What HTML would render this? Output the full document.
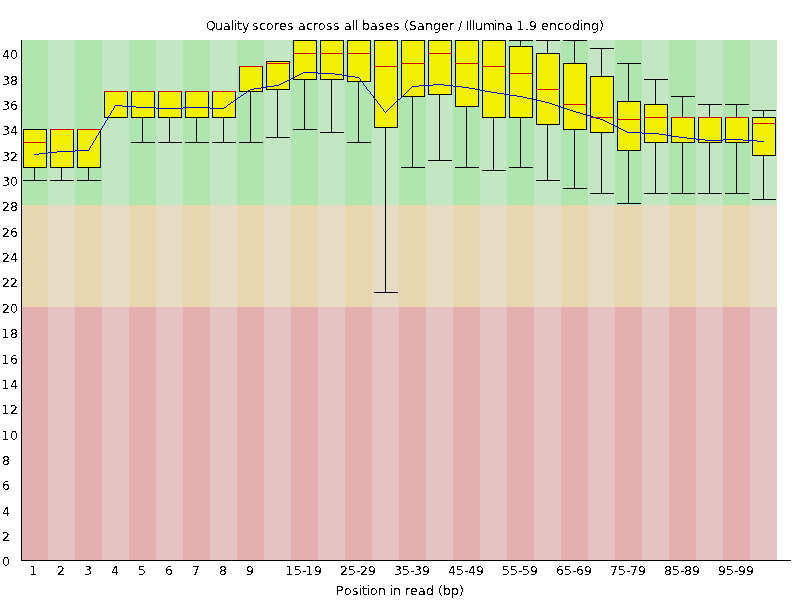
<!DOCTYPE html>
<html><head><meta charset="utf-8"><title>Quality scores across all bases</title>
<style>
html,body{margin:0;padding:0;background:#fff;}
body{width:800px;height:600px;overflow:hidden;}
svg{display:block;}
svg text{font-family:"DejaVu Sans", "Liberation Sans", sans-serif;font-size:12.5px;fill:#000;}
</style></head><body>
<svg width="800" height="600" viewBox="0 0 800 600">
<rect x="0" y="0" width="800" height="600" fill="#fff"/>
<g shape-rendering="crispEdges">
<rect x="21" y="40" width="27" height="165" fill="#afe6af"/>
<rect x="21" y="205" width="27" height="102" fill="#e6d7af"/>
<rect x="21" y="307" width="27" height="253" fill="#e6afaf"/>
<rect x="48" y="40" width="27" height="165" fill="#c3e6c3"/>
<rect x="48" y="205" width="27" height="102" fill="#e6dcc3"/>
<rect x="48" y="307" width="27" height="253" fill="#e6c3c3"/>
<rect x="75" y="40" width="27" height="165" fill="#afe6af"/>
<rect x="75" y="205" width="27" height="102" fill="#e6d7af"/>
<rect x="75" y="307" width="27" height="253" fill="#e6afaf"/>
<rect x="102" y="40" width="27" height="165" fill="#c3e6c3"/>
<rect x="102" y="205" width="27" height="102" fill="#e6dcc3"/>
<rect x="102" y="307" width="27" height="253" fill="#e6c3c3"/>
<rect x="129" y="40" width="27" height="165" fill="#afe6af"/>
<rect x="129" y="205" width="27" height="102" fill="#e6d7af"/>
<rect x="129" y="307" width="27" height="253" fill="#e6afaf"/>
<rect x="156" y="40" width="27" height="165" fill="#c3e6c3"/>
<rect x="156" y="205" width="27" height="102" fill="#e6dcc3"/>
<rect x="156" y="307" width="27" height="253" fill="#e6c3c3"/>
<rect x="183" y="40" width="27" height="165" fill="#afe6af"/>
<rect x="183" y="205" width="27" height="102" fill="#e6d7af"/>
<rect x="183" y="307" width="27" height="253" fill="#e6afaf"/>
<rect x="210" y="40" width="27" height="165" fill="#c3e6c3"/>
<rect x="210" y="205" width="27" height="102" fill="#e6dcc3"/>
<rect x="210" y="307" width="27" height="253" fill="#e6c3c3"/>
<rect x="237" y="40" width="27" height="165" fill="#afe6af"/>
<rect x="237" y="205" width="27" height="102" fill="#e6d7af"/>
<rect x="237" y="307" width="27" height="253" fill="#e6afaf"/>
<rect x="264" y="40" width="27" height="165" fill="#c3e6c3"/>
<rect x="264" y="205" width="27" height="102" fill="#e6dcc3"/>
<rect x="264" y="307" width="27" height="253" fill="#e6c3c3"/>
<rect x="291" y="40" width="27" height="165" fill="#afe6af"/>
<rect x="291" y="205" width="27" height="102" fill="#e6d7af"/>
<rect x="291" y="307" width="27" height="253" fill="#e6afaf"/>
<rect x="318" y="40" width="27" height="165" fill="#c3e6c3"/>
<rect x="318" y="205" width="27" height="102" fill="#e6dcc3"/>
<rect x="318" y="307" width="27" height="253" fill="#e6c3c3"/>
<rect x="345" y="40" width="27" height="165" fill="#afe6af"/>
<rect x="345" y="205" width="27" height="102" fill="#e6d7af"/>
<rect x="345" y="307" width="27" height="253" fill="#e6afaf"/>
<rect x="372" y="40" width="27" height="165" fill="#c3e6c3"/>
<rect x="372" y="205" width="27" height="102" fill="#e6dcc3"/>
<rect x="372" y="307" width="27" height="253" fill="#e6c3c3"/>
<rect x="399" y="40" width="27" height="165" fill="#afe6af"/>
<rect x="399" y="205" width="27" height="102" fill="#e6d7af"/>
<rect x="399" y="307" width="27" height="253" fill="#e6afaf"/>
<rect x="426" y="40" width="27" height="165" fill="#c3e6c3"/>
<rect x="426" y="205" width="27" height="102" fill="#e6dcc3"/>
<rect x="426" y="307" width="27" height="253" fill="#e6c3c3"/>
<rect x="453" y="40" width="27" height="165" fill="#afe6af"/>
<rect x="453" y="205" width="27" height="102" fill="#e6d7af"/>
<rect x="453" y="307" width="27" height="253" fill="#e6afaf"/>
<rect x="480" y="40" width="27" height="165" fill="#c3e6c3"/>
<rect x="480" y="205" width="27" height="102" fill="#e6dcc3"/>
<rect x="480" y="307" width="27" height="253" fill="#e6c3c3"/>
<rect x="507" y="40" width="27" height="165" fill="#afe6af"/>
<rect x="507" y="205" width="27" height="102" fill="#e6d7af"/>
<rect x="507" y="307" width="27" height="253" fill="#e6afaf"/>
<rect x="534" y="40" width="27" height="165" fill="#c3e6c3"/>
<rect x="534" y="205" width="27" height="102" fill="#e6dcc3"/>
<rect x="534" y="307" width="27" height="253" fill="#e6c3c3"/>
<rect x="561" y="40" width="27" height="165" fill="#afe6af"/>
<rect x="561" y="205" width="27" height="102" fill="#e6d7af"/>
<rect x="561" y="307" width="27" height="253" fill="#e6afaf"/>
<rect x="588" y="40" width="27" height="165" fill="#c3e6c3"/>
<rect x="588" y="205" width="27" height="102" fill="#e6dcc3"/>
<rect x="588" y="307" width="27" height="253" fill="#e6c3c3"/>
<rect x="615" y="40" width="27" height="165" fill="#afe6af"/>
<rect x="615" y="205" width="27" height="102" fill="#e6d7af"/>
<rect x="615" y="307" width="27" height="253" fill="#e6afaf"/>
<rect x="642" y="40" width="27" height="165" fill="#c3e6c3"/>
<rect x="642" y="205" width="27" height="102" fill="#e6dcc3"/>
<rect x="642" y="307" width="27" height="253" fill="#e6c3c3"/>
<rect x="669" y="40" width="27" height="165" fill="#afe6af"/>
<rect x="669" y="205" width="27" height="102" fill="#e6d7af"/>
<rect x="669" y="307" width="27" height="253" fill="#e6afaf"/>
<rect x="696" y="40" width="27" height="165" fill="#c3e6c3"/>
<rect x="696" y="205" width="27" height="102" fill="#e6dcc3"/>
<rect x="696" y="307" width="27" height="253" fill="#e6c3c3"/>
<rect x="723" y="40" width="27" height="165" fill="#afe6af"/>
<rect x="723" y="205" width="27" height="102" fill="#e6d7af"/>
<rect x="723" y="307" width="27" height="253" fill="#e6afaf"/>
<rect x="750" y="40" width="27" height="165" fill="#c3e6c3"/>
<rect x="750" y="205" width="27" height="102" fill="#e6dcc3"/>
<rect x="750" y="307" width="27" height="253" fill="#e6c3c3"/>
<rect x="21" y="560" width="770" height="1" fill="#000"/>
<rect x="21" y="40" width="1" height="521" fill="#000"/>
<rect x="23" y="129" width="23" height="38" fill="#f0f000"/>
<rect x="23" y="129" width="24" height="1" fill="#000"/>
<rect x="23" y="167" width="24" height="1" fill="#000"/>
<rect x="23" y="129" width="1" height="39" fill="#000"/>
<rect x="46" y="129" width="1" height="39" fill="#000"/>
<rect x="34" y="167" width="1" height="14" fill="#000"/>
<rect x="23" y="129" width="24" height="1" fill="#000"/>
<rect x="23" y="180" width="24" height="1" fill="#000"/>
<rect x="23" y="142" width="24" height="1" fill="#c80000"/>
<rect x="50" y="129" width="23" height="38" fill="#f0f000"/>
<rect x="50" y="129" width="24" height="1" fill="#000"/>
<rect x="50" y="167" width="24" height="1" fill="#000"/>
<rect x="50" y="129" width="1" height="39" fill="#000"/>
<rect x="73" y="129" width="1" height="39" fill="#000"/>
<rect x="61" y="167" width="1" height="14" fill="#000"/>
<rect x="50" y="129" width="24" height="1" fill="#000"/>
<rect x="50" y="180" width="24" height="1" fill="#000"/>
<rect x="50" y="129" width="24" height="1" fill="#c80000"/>
<rect x="77" y="129" width="23" height="38" fill="#f0f000"/>
<rect x="77" y="129" width="24" height="1" fill="#000"/>
<rect x="77" y="167" width="24" height="1" fill="#000"/>
<rect x="77" y="129" width="1" height="39" fill="#000"/>
<rect x="100" y="129" width="1" height="39" fill="#000"/>
<rect x="88" y="167" width="1" height="14" fill="#000"/>
<rect x="77" y="129" width="24" height="1" fill="#000"/>
<rect x="77" y="180" width="24" height="1" fill="#000"/>
<rect x="77" y="129" width="24" height="1" fill="#c80000"/>
<rect x="104" y="91" width="23" height="26" fill="#f0f000"/>
<rect x="104" y="91" width="24" height="1" fill="#000"/>
<rect x="104" y="117" width="24" height="1" fill="#000"/>
<rect x="104" y="91" width="1" height="27" fill="#000"/>
<rect x="127" y="91" width="1" height="27" fill="#000"/>
<rect x="104" y="91" width="24" height="1" fill="#000"/>
<rect x="104" y="117" width="24" height="1" fill="#000"/>
<rect x="104" y="91" width="24" height="1" fill="#c80000"/>
<rect x="131" y="91" width="23" height="26" fill="#f0f000"/>
<rect x="131" y="91" width="24" height="1" fill="#000"/>
<rect x="131" y="117" width="24" height="1" fill="#000"/>
<rect x="131" y="91" width="1" height="27" fill="#000"/>
<rect x="154" y="91" width="1" height="27" fill="#000"/>
<rect x="142" y="117" width="1" height="26" fill="#000"/>
<rect x="131" y="91" width="24" height="1" fill="#000"/>
<rect x="131" y="142" width="24" height="1" fill="#000"/>
<rect x="131" y="91" width="24" height="1" fill="#c80000"/>
<rect x="158" y="91" width="23" height="26" fill="#f0f000"/>
<rect x="158" y="91" width="24" height="1" fill="#000"/>
<rect x="158" y="117" width="24" height="1" fill="#000"/>
<rect x="158" y="91" width="1" height="27" fill="#000"/>
<rect x="181" y="91" width="1" height="27" fill="#000"/>
<rect x="169" y="117" width="1" height="26" fill="#000"/>
<rect x="158" y="91" width="24" height="1" fill="#000"/>
<rect x="158" y="142" width="24" height="1" fill="#000"/>
<rect x="158" y="91" width="24" height="1" fill="#c80000"/>
<rect x="185" y="91" width="23" height="26" fill="#f0f000"/>
<rect x="185" y="91" width="24" height="1" fill="#000"/>
<rect x="185" y="117" width="24" height="1" fill="#000"/>
<rect x="185" y="91" width="1" height="27" fill="#000"/>
<rect x="208" y="91" width="1" height="27" fill="#000"/>
<rect x="196" y="117" width="1" height="26" fill="#000"/>
<rect x="185" y="91" width="24" height="1" fill="#000"/>
<rect x="185" y="142" width="24" height="1" fill="#000"/>
<rect x="185" y="91" width="24" height="1" fill="#c80000"/>
<rect x="212" y="91" width="23" height="26" fill="#f0f000"/>
<rect x="212" y="91" width="24" height="1" fill="#000"/>
<rect x="212" y="117" width="24" height="1" fill="#000"/>
<rect x="212" y="91" width="1" height="27" fill="#000"/>
<rect x="235" y="91" width="1" height="27" fill="#000"/>
<rect x="223" y="117" width="1" height="26" fill="#000"/>
<rect x="212" y="91" width="24" height="1" fill="#000"/>
<rect x="212" y="142" width="24" height="1" fill="#000"/>
<rect x="212" y="91" width="24" height="1" fill="#c80000"/>
<rect x="239" y="66" width="23" height="25" fill="#f0f000"/>
<rect x="239" y="66" width="24" height="1" fill="#000"/>
<rect x="239" y="91" width="24" height="1" fill="#000"/>
<rect x="239" y="66" width="1" height="26" fill="#000"/>
<rect x="262" y="66" width="1" height="26" fill="#000"/>
<rect x="250" y="91" width="1" height="52" fill="#000"/>
<rect x="239" y="66" width="24" height="1" fill="#000"/>
<rect x="239" y="142" width="24" height="1" fill="#000"/>
<rect x="239" y="66" width="24" height="1" fill="#c80000"/>
<rect x="266" y="61" width="23" height="28" fill="#f0f000"/>
<rect x="266" y="61" width="24" height="1" fill="#000"/>
<rect x="266" y="89" width="24" height="1" fill="#000"/>
<rect x="266" y="61" width="1" height="29" fill="#000"/>
<rect x="289" y="61" width="1" height="29" fill="#000"/>
<rect x="277" y="89" width="1" height="49" fill="#000"/>
<rect x="266" y="61" width="24" height="1" fill="#000"/>
<rect x="266" y="137" width="24" height="1" fill="#000"/>
<rect x="266" y="63" width="24" height="1" fill="#c80000"/>
<rect x="293" y="40" width="23" height="39" fill="#f0f000"/>
<rect x="293" y="40" width="24" height="1" fill="#000"/>
<rect x="293" y="79" width="24" height="1" fill="#000"/>
<rect x="293" y="40" width="1" height="40" fill="#000"/>
<rect x="316" y="40" width="1" height="40" fill="#000"/>
<rect x="304" y="79" width="1" height="51" fill="#000"/>
<rect x="293" y="40" width="24" height="1" fill="#000"/>
<rect x="293" y="129" width="24" height="1" fill="#000"/>
<rect x="293" y="53" width="24" height="1" fill="#c80000"/>
<rect x="320" y="40" width="23" height="39" fill="#f0f000"/>
<rect x="320" y="40" width="24" height="1" fill="#000"/>
<rect x="320" y="79" width="24" height="1" fill="#000"/>
<rect x="320" y="40" width="1" height="40" fill="#000"/>
<rect x="343" y="40" width="1" height="40" fill="#000"/>
<rect x="331" y="79" width="1" height="54" fill="#000"/>
<rect x="320" y="40" width="24" height="1" fill="#000"/>
<rect x="320" y="132" width="24" height="1" fill="#000"/>
<rect x="320" y="53" width="24" height="1" fill="#c80000"/>
<rect x="347" y="40" width="23" height="41" fill="#f0f000"/>
<rect x="347" y="40" width="24" height="1" fill="#000"/>
<rect x="347" y="81" width="24" height="1" fill="#000"/>
<rect x="347" y="40" width="1" height="42" fill="#000"/>
<rect x="370" y="40" width="1" height="42" fill="#000"/>
<rect x="358" y="81" width="1" height="62" fill="#000"/>
<rect x="347" y="40" width="24" height="1" fill="#000"/>
<rect x="347" y="142" width="24" height="1" fill="#000"/>
<rect x="347" y="53" width="24" height="1" fill="#c80000"/>
<rect x="374" y="40" width="23" height="87" fill="#f0f000"/>
<rect x="374" y="40" width="24" height="1" fill="#000"/>
<rect x="374" y="127" width="24" height="1" fill="#000"/>
<rect x="374" y="40" width="1" height="88" fill="#000"/>
<rect x="397" y="40" width="1" height="88" fill="#000"/>
<rect x="385" y="127" width="1" height="166" fill="#000"/>
<rect x="374" y="40" width="24" height="1" fill="#000"/>
<rect x="374" y="292" width="24" height="1" fill="#000"/>
<rect x="374" y="66" width="24" height="1" fill="#c80000"/>
<rect x="401" y="40" width="23" height="56" fill="#f0f000"/>
<rect x="401" y="40" width="24" height="1" fill="#000"/>
<rect x="401" y="96" width="24" height="1" fill="#000"/>
<rect x="401" y="40" width="1" height="57" fill="#000"/>
<rect x="424" y="40" width="1" height="57" fill="#000"/>
<rect x="412" y="96" width="1" height="72" fill="#000"/>
<rect x="401" y="40" width="24" height="1" fill="#000"/>
<rect x="401" y="167" width="24" height="1" fill="#000"/>
<rect x="401" y="63" width="24" height="1" fill="#c80000"/>
<rect x="428" y="40" width="23" height="54" fill="#f0f000"/>
<rect x="428" y="40" width="24" height="1" fill="#000"/>
<rect x="428" y="94" width="24" height="1" fill="#000"/>
<rect x="428" y="40" width="1" height="55" fill="#000"/>
<rect x="451" y="40" width="1" height="55" fill="#000"/>
<rect x="439" y="94" width="1" height="67" fill="#000"/>
<rect x="428" y="40" width="24" height="1" fill="#000"/>
<rect x="428" y="160" width="24" height="1" fill="#000"/>
<rect x="428" y="53" width="24" height="1" fill="#c80000"/>
<rect x="455" y="40" width="23" height="66" fill="#f0f000"/>
<rect x="455" y="40" width="24" height="1" fill="#000"/>
<rect x="455" y="106" width="24" height="1" fill="#000"/>
<rect x="455" y="40" width="1" height="67" fill="#000"/>
<rect x="478" y="40" width="1" height="67" fill="#000"/>
<rect x="466" y="106" width="1" height="62" fill="#000"/>
<rect x="455" y="40" width="24" height="1" fill="#000"/>
<rect x="455" y="167" width="24" height="1" fill="#000"/>
<rect x="455" y="63" width="24" height="1" fill="#c80000"/>
<rect x="482" y="40" width="23" height="77" fill="#f0f000"/>
<rect x="482" y="40" width="24" height="1" fill="#000"/>
<rect x="482" y="117" width="24" height="1" fill="#000"/>
<rect x="482" y="40" width="1" height="78" fill="#000"/>
<rect x="505" y="40" width="1" height="78" fill="#000"/>
<rect x="493" y="117" width="1" height="54" fill="#000"/>
<rect x="482" y="40" width="24" height="1" fill="#000"/>
<rect x="482" y="170" width="24" height="1" fill="#000"/>
<rect x="482" y="66" width="24" height="1" fill="#c80000"/>
<rect x="509" y="46" width="23" height="71" fill="#f0f000"/>
<rect x="509" y="46" width="24" height="1" fill="#000"/>
<rect x="509" y="117" width="24" height="1" fill="#000"/>
<rect x="509" y="46" width="1" height="72" fill="#000"/>
<rect x="532" y="46" width="1" height="72" fill="#000"/>
<rect x="520" y="40" width="1" height="7" fill="#000"/>
<rect x="520" y="117" width="1" height="51" fill="#000"/>
<rect x="509" y="40" width="24" height="1" fill="#000"/>
<rect x="509" y="167" width="24" height="1" fill="#000"/>
<rect x="509" y="73" width="24" height="1" fill="#c80000"/>
<rect x="536" y="53" width="23" height="71" fill="#f0f000"/>
<rect x="536" y="53" width="24" height="1" fill="#000"/>
<rect x="536" y="124" width="24" height="1" fill="#000"/>
<rect x="536" y="53" width="1" height="72" fill="#000"/>
<rect x="559" y="53" width="1" height="72" fill="#000"/>
<rect x="547" y="40" width="1" height="14" fill="#000"/>
<rect x="547" y="124" width="1" height="57" fill="#000"/>
<rect x="536" y="40" width="24" height="1" fill="#000"/>
<rect x="536" y="180" width="24" height="1" fill="#000"/>
<rect x="536" y="89" width="24" height="1" fill="#c80000"/>
<rect x="563" y="63" width="23" height="66" fill="#f0f000"/>
<rect x="563" y="63" width="24" height="1" fill="#000"/>
<rect x="563" y="129" width="24" height="1" fill="#000"/>
<rect x="563" y="63" width="1" height="67" fill="#000"/>
<rect x="586" y="63" width="1" height="67" fill="#000"/>
<rect x="574" y="40" width="1" height="24" fill="#000"/>
<rect x="574" y="129" width="1" height="60" fill="#000"/>
<rect x="563" y="40" width="24" height="1" fill="#000"/>
<rect x="563" y="188" width="24" height="1" fill="#000"/>
<rect x="563" y="104" width="24" height="1" fill="#c80000"/>
<rect x="590" y="76" width="23" height="56" fill="#f0f000"/>
<rect x="590" y="76" width="24" height="1" fill="#000"/>
<rect x="590" y="132" width="24" height="1" fill="#000"/>
<rect x="590" y="76" width="1" height="57" fill="#000"/>
<rect x="613" y="76" width="1" height="57" fill="#000"/>
<rect x="601" y="48" width="1" height="29" fill="#000"/>
<rect x="601" y="132" width="1" height="62" fill="#000"/>
<rect x="590" y="48" width="24" height="1" fill="#000"/>
<rect x="590" y="193" width="24" height="1" fill="#000"/>
<rect x="590" y="117" width="24" height="1" fill="#c80000"/>
<rect x="617" y="101" width="23" height="49" fill="#f0f000"/>
<rect x="617" y="101" width="24" height="1" fill="#000"/>
<rect x="617" y="150" width="24" height="1" fill="#000"/>
<rect x="617" y="101" width="1" height="50" fill="#000"/>
<rect x="640" y="101" width="1" height="50" fill="#000"/>
<rect x="628" y="63" width="1" height="39" fill="#000"/>
<rect x="628" y="150" width="1" height="54" fill="#000"/>
<rect x="617" y="63" width="24" height="1" fill="#000"/>
<rect x="617" y="203" width="24" height="1" fill="#000"/>
<rect x="617" y="119" width="24" height="1" fill="#c80000"/>
<rect x="644" y="104" width="23" height="38" fill="#f0f000"/>
<rect x="644" y="104" width="24" height="1" fill="#000"/>
<rect x="644" y="142" width="24" height="1" fill="#000"/>
<rect x="644" y="104" width="1" height="39" fill="#000"/>
<rect x="667" y="104" width="1" height="39" fill="#000"/>
<rect x="655" y="79" width="1" height="26" fill="#000"/>
<rect x="655" y="142" width="1" height="52" fill="#000"/>
<rect x="644" y="79" width="24" height="1" fill="#000"/>
<rect x="644" y="193" width="24" height="1" fill="#000"/>
<rect x="644" y="117" width="24" height="1" fill="#c80000"/>
<rect x="671" y="117" width="23" height="25" fill="#f0f000"/>
<rect x="671" y="117" width="24" height="1" fill="#000"/>
<rect x="671" y="142" width="24" height="1" fill="#000"/>
<rect x="671" y="117" width="1" height="26" fill="#000"/>
<rect x="694" y="117" width="1" height="26" fill="#000"/>
<rect x="682" y="96" width="1" height="22" fill="#000"/>
<rect x="682" y="142" width="1" height="52" fill="#000"/>
<rect x="671" y="96" width="24" height="1" fill="#000"/>
<rect x="671" y="193" width="24" height="1" fill="#000"/>
<rect x="671" y="117" width="24" height="1" fill="#c80000"/>
<rect x="698" y="117" width="23" height="25" fill="#f0f000"/>
<rect x="698" y="117" width="24" height="1" fill="#000"/>
<rect x="698" y="142" width="24" height="1" fill="#000"/>
<rect x="698" y="117" width="1" height="26" fill="#000"/>
<rect x="721" y="117" width="1" height="26" fill="#000"/>
<rect x="709" y="104" width="1" height="14" fill="#000"/>
<rect x="709" y="142" width="1" height="52" fill="#000"/>
<rect x="698" y="104" width="24" height="1" fill="#000"/>
<rect x="698" y="193" width="24" height="1" fill="#000"/>
<rect x="698" y="117" width="24" height="1" fill="#c80000"/>
<rect x="725" y="117" width="23" height="25" fill="#f0f000"/>
<rect x="725" y="117" width="24" height="1" fill="#000"/>
<rect x="725" y="142" width="24" height="1" fill="#000"/>
<rect x="725" y="117" width="1" height="26" fill="#000"/>
<rect x="748" y="117" width="1" height="26" fill="#000"/>
<rect x="736" y="104" width="1" height="14" fill="#000"/>
<rect x="736" y="142" width="1" height="52" fill="#000"/>
<rect x="725" y="104" width="24" height="1" fill="#000"/>
<rect x="725" y="193" width="24" height="1" fill="#000"/>
<rect x="725" y="117" width="24" height="1" fill="#c80000"/>
<rect x="752" y="117" width="23" height="38" fill="#f0f000"/>
<rect x="752" y="117" width="24" height="1" fill="#000"/>
<rect x="752" y="155" width="24" height="1" fill="#000"/>
<rect x="752" y="117" width="1" height="39" fill="#000"/>
<rect x="775" y="117" width="1" height="39" fill="#000"/>
<rect x="763" y="110" width="1" height="8" fill="#000"/>
<rect x="763" y="155" width="1" height="45" fill="#000"/>
<rect x="752" y="110" width="24" height="1" fill="#000"/>
<rect x="752" y="199" width="24" height="1" fill="#000"/>
<rect x="752" y="123" width="24" height="1" fill="#c80000"/>
<rect x="303" y="72" width="15" height="1" fill="#0000c8"/>
<rect x="301" y="73" width="2" height="1" fill="#0000c8"/>
<rect x="318" y="73" width="17" height="1" fill="#0000c8"/>
<rect x="299" y="74" width="2" height="1" fill="#0000c8"/>
<rect x="335" y="74" width="7" height="1" fill="#0000c8"/>
<rect x="297" y="75" width="2" height="1" fill="#0000c8"/>
<rect x="342" y="75" width="6" height="1" fill="#0000c8"/>
<rect x="295" y="76" width="2" height="1" fill="#0000c8"/>
<rect x="348" y="76" width="7" height="1" fill="#0000c8"/>
<rect x="293" y="77" width="2" height="1" fill="#0000c8"/>
<rect x="355" y="77" width="4" height="1" fill="#0000c8"/>
<rect x="291" y="78" width="2" height="1" fill="#0000c8"/>
<rect x="359" y="78" width="1" height="1" fill="#0000c8"/>
<rect x="289" y="79" width="2" height="1" fill="#0000c8"/>
<rect x="360" y="79" width="1" height="1" fill="#0000c8"/>
<rect x="287" y="80" width="2" height="1" fill="#0000c8"/>
<rect x="360" y="80" width="1" height="1" fill="#0000c8"/>
<rect x="285" y="81" width="2" height="1" fill="#0000c8"/>
<rect x="361" y="81" width="1" height="1" fill="#0000c8"/>
<rect x="283" y="82" width="2" height="1" fill="#0000c8"/>
<rect x="362" y="82" width="1" height="1" fill="#0000c8"/>
<rect x="281" y="83" width="2" height="1" fill="#0000c8"/>
<rect x="363" y="83" width="1" height="1" fill="#0000c8"/>
<rect x="279" y="84" width="2" height="1" fill="#0000c8"/>
<rect x="363" y="84" width="1" height="1" fill="#0000c8"/>
<rect x="433" y="84" width="11" height="1" fill="#0000c8"/>
<rect x="274" y="85" width="5" height="1" fill="#0000c8"/>
<rect x="364" y="85" width="1" height="1" fill="#0000c8"/>
<rect x="419" y="85" width="14" height="1" fill="#0000c8"/>
<rect x="444" y="85" width="9" height="1" fill="#0000c8"/>
<rect x="267" y="86" width="7" height="1" fill="#0000c8"/>
<rect x="365" y="86" width="1" height="1" fill="#0000c8"/>
<rect x="412" y="86" width="7" height="1" fill="#0000c8"/>
<rect x="453" y="86" width="9" height="1" fill="#0000c8"/>
<rect x="261" y="87" width="6" height="1" fill="#0000c8"/>
<rect x="366" y="87" width="1" height="1" fill="#0000c8"/>
<rect x="411" y="87" width="1" height="1" fill="#0000c8"/>
<rect x="462" y="87" width="7" height="1" fill="#0000c8"/>
<rect x="254" y="88" width="7" height="1" fill="#0000c8"/>
<rect x="366" y="88" width="1" height="1" fill="#0000c8"/>
<rect x="410" y="88" width="1" height="1" fill="#0000c8"/>
<rect x="469" y="88" width="6" height="1" fill="#0000c8"/>
<rect x="250" y="89" width="4" height="1" fill="#0000c8"/>
<rect x="367" y="89" width="1" height="1" fill="#0000c8"/>
<rect x="409" y="89" width="1" height="1" fill="#0000c8"/>
<rect x="475" y="89" width="5" height="1" fill="#0000c8"/>
<rect x="248" y="90" width="2" height="1" fill="#0000c8"/>
<rect x="368" y="90" width="1" height="1" fill="#0000c8"/>
<rect x="408" y="90" width="1" height="1" fill="#0000c8"/>
<rect x="480" y="90" width="5" height="1" fill="#0000c8"/>
<rect x="247" y="91" width="1" height="1" fill="#0000c8"/>
<rect x="369" y="91" width="1" height="1" fill="#0000c8"/>
<rect x="407" y="91" width="1" height="1" fill="#0000c8"/>
<rect x="485" y="91" width="6" height="1" fill="#0000c8"/>
<rect x="246" y="92" width="1" height="1" fill="#0000c8"/>
<rect x="370" y="92" width="1" height="1" fill="#0000c8"/>
<rect x="406" y="92" width="1" height="1" fill="#0000c8"/>
<rect x="491" y="92" width="6" height="1" fill="#0000c8"/>
<rect x="244" y="93" width="2" height="1" fill="#0000c8"/>
<rect x="370" y="93" width="1" height="1" fill="#0000c8"/>
<rect x="405" y="93" width="1" height="1" fill="#0000c8"/>
<rect x="497" y="93" width="7" height="1" fill="#0000c8"/>
<rect x="243" y="94" width="1" height="1" fill="#0000c8"/>
<rect x="371" y="94" width="1" height="1" fill="#0000c8"/>
<rect x="404" y="94" width="1" height="1" fill="#0000c8"/>
<rect x="504" y="94" width="6" height="1" fill="#0000c8"/>
<rect x="241" y="95" width="2" height="1" fill="#0000c8"/>
<rect x="372" y="95" width="1" height="1" fill="#0000c8"/>
<rect x="403" y="95" width="1" height="1" fill="#0000c8"/>
<rect x="510" y="95" width="7" height="1" fill="#0000c8"/>
<rect x="240" y="96" width="1" height="1" fill="#0000c8"/>
<rect x="373" y="96" width="1" height="1" fill="#0000c8"/>
<rect x="402" y="96" width="1" height="1" fill="#0000c8"/>
<rect x="517" y="96" width="6" height="1" fill="#0000c8"/>
<rect x="238" y="97" width="2" height="1" fill="#0000c8"/>
<rect x="373" y="97" width="1" height="1" fill="#0000c8"/>
<rect x="401" y="97" width="1" height="1" fill="#0000c8"/>
<rect x="523" y="97" width="4" height="1" fill="#0000c8"/>
<rect x="237" y="98" width="1" height="1" fill="#0000c8"/>
<rect x="374" y="98" width="1" height="1" fill="#0000c8"/>
<rect x="400" y="98" width="1" height="1" fill="#0000c8"/>
<rect x="527" y="98" width="5" height="1" fill="#0000c8"/>
<rect x="236" y="99" width="1" height="1" fill="#0000c8"/>
<rect x="375" y="99" width="1" height="1" fill="#0000c8"/>
<rect x="398" y="99" width="2" height="1" fill="#0000c8"/>
<rect x="532" y="99" width="4" height="1" fill="#0000c8"/>
<rect x="234" y="100" width="2" height="1" fill="#0000c8"/>
<rect x="376" y="100" width="1" height="1" fill="#0000c8"/>
<rect x="397" y="100" width="1" height="1" fill="#0000c8"/>
<rect x="536" y="100" width="5" height="1" fill="#0000c8"/>
<rect x="233" y="101" width="1" height="1" fill="#0000c8"/>
<rect x="377" y="101" width="1" height="1" fill="#0000c8"/>
<rect x="396" y="101" width="1" height="1" fill="#0000c8"/>
<rect x="541" y="101" width="4" height="1" fill="#0000c8"/>
<rect x="231" y="102" width="2" height="1" fill="#0000c8"/>
<rect x="377" y="102" width="1" height="1" fill="#0000c8"/>
<rect x="395" y="102" width="1" height="1" fill="#0000c8"/>
<rect x="545" y="102" width="4" height="1" fill="#0000c8"/>
<rect x="230" y="103" width="1" height="1" fill="#0000c8"/>
<rect x="378" y="103" width="1" height="1" fill="#0000c8"/>
<rect x="394" y="103" width="1" height="1" fill="#0000c8"/>
<rect x="549" y="103" width="3" height="1" fill="#0000c8"/>
<rect x="228" y="104" width="2" height="1" fill="#0000c8"/>
<rect x="379" y="104" width="1" height="1" fill="#0000c8"/>
<rect x="393" y="104" width="1" height="1" fill="#0000c8"/>
<rect x="552" y="104" width="3" height="1" fill="#0000c8"/>
<rect x="115" y="105" width="7" height="1" fill="#0000c8"/>
<rect x="227" y="105" width="1" height="1" fill="#0000c8"/>
<rect x="380" y="105" width="1" height="1" fill="#0000c8"/>
<rect x="392" y="105" width="1" height="1" fill="#0000c8"/>
<rect x="555" y="105" width="3" height="1" fill="#0000c8"/>
<rect x="114" y="106" width="1" height="1" fill="#0000c8"/>
<rect x="122" y="106" width="14" height="1" fill="#0000c8"/>
<rect x="226" y="106" width="1" height="1" fill="#0000c8"/>
<rect x="380" y="106" width="1" height="1" fill="#0000c8"/>
<rect x="391" y="106" width="1" height="1" fill="#0000c8"/>
<rect x="558" y="106" width="3" height="1" fill="#0000c8"/>
<rect x="114" y="107" width="1" height="1" fill="#0000c8"/>
<rect x="136" y="107" width="20" height="1" fill="#0000c8"/>
<rect x="183" y="107" width="27" height="1" fill="#0000c8"/>
<rect x="224" y="107" width="2" height="1" fill="#0000c8"/>
<rect x="381" y="107" width="1" height="1" fill="#0000c8"/>
<rect x="390" y="107" width="1" height="1" fill="#0000c8"/>
<rect x="561" y="107" width="3" height="1" fill="#0000c8"/>
<rect x="113" y="108" width="1" height="1" fill="#0000c8"/>
<rect x="156" y="108" width="27" height="1" fill="#0000c8"/>
<rect x="210" y="108" width="14" height="1" fill="#0000c8"/>
<rect x="382" y="108" width="1" height="1" fill="#0000c8"/>
<rect x="389" y="108" width="1" height="1" fill="#0000c8"/>
<rect x="564" y="108" width="3" height="1" fill="#0000c8"/>
<rect x="113" y="109" width="1" height="1" fill="#0000c8"/>
<rect x="383" y="109" width="1" height="1" fill="#0000c8"/>
<rect x="388" y="109" width="1" height="1" fill="#0000c8"/>
<rect x="567" y="109" width="3" height="1" fill="#0000c8"/>
<rect x="112" y="110" width="1" height="1" fill="#0000c8"/>
<rect x="383" y="110" width="1" height="1" fill="#0000c8"/>
<rect x="387" y="110" width="1" height="1" fill="#0000c8"/>
<rect x="570" y="110" width="3" height="1" fill="#0000c8"/>
<rect x="111" y="111" width="1" height="1" fill="#0000c8"/>
<rect x="384" y="111" width="1" height="1" fill="#0000c8"/>
<rect x="386" y="111" width="1" height="1" fill="#0000c8"/>
<rect x="573" y="111" width="3" height="1" fill="#0000c8"/>
<rect x="111" y="112" width="1" height="1" fill="#0000c8"/>
<rect x="385" y="112" width="1" height="1" fill="#0000c8"/>
<rect x="576" y="112" width="4" height="1" fill="#0000c8"/>
<rect x="110" y="113" width="1" height="1" fill="#0000c8"/>
<rect x="580" y="113" width="3" height="1" fill="#0000c8"/>
<rect x="110" y="114" width="1" height="1" fill="#0000c8"/>
<rect x="583" y="114" width="3" height="1" fill="#0000c8"/>
<rect x="109" y="115" width="1" height="1" fill="#0000c8"/>
<rect x="586" y="115" width="4" height="1" fill="#0000c8"/>
<rect x="108" y="116" width="1" height="1" fill="#0000c8"/>
<rect x="590" y="116" width="3" height="1" fill="#0000c8"/>
<rect x="108" y="117" width="1" height="1" fill="#0000c8"/>
<rect x="593" y="117" width="3" height="1" fill="#0000c8"/>
<rect x="107" y="118" width="1" height="1" fill="#0000c8"/>
<rect x="596" y="118" width="4" height="1" fill="#0000c8"/>
<rect x="107" y="119" width="1" height="1" fill="#0000c8"/>
<rect x="600" y="119" width="3" height="1" fill="#0000c8"/>
<rect x="106" y="120" width="1" height="1" fill="#0000c8"/>
<rect x="603" y="120" width="2" height="1" fill="#0000c8"/>
<rect x="105" y="121" width="1" height="1" fill="#0000c8"/>
<rect x="605" y="121" width="2" height="1" fill="#0000c8"/>
<rect x="105" y="122" width="1" height="1" fill="#0000c8"/>
<rect x="607" y="122" width="2" height="1" fill="#0000c8"/>
<rect x="104" y="123" width="1" height="1" fill="#0000c8"/>
<rect x="609" y="123" width="2" height="1" fill="#0000c8"/>
<rect x="104" y="124" width="1" height="1" fill="#0000c8"/>
<rect x="611" y="124" width="2" height="1" fill="#0000c8"/>
<rect x="103" y="125" width="1" height="1" fill="#0000c8"/>
<rect x="613" y="125" width="2" height="1" fill="#0000c8"/>
<rect x="102" y="126" width="1" height="1" fill="#0000c8"/>
<rect x="615" y="126" width="2" height="1" fill="#0000c8"/>
<rect x="102" y="127" width="1" height="1" fill="#0000c8"/>
<rect x="617" y="127" width="2" height="1" fill="#0000c8"/>
<rect x="101" y="128" width="1" height="1" fill="#0000c8"/>
<rect x="619" y="128" width="2" height="1" fill="#0000c8"/>
<rect x="101" y="129" width="1" height="1" fill="#0000c8"/>
<rect x="621" y="129" width="2" height="1" fill="#0000c8"/>
<rect x="100" y="130" width="1" height="1" fill="#0000c8"/>
<rect x="623" y="130" width="2" height="1" fill="#0000c8"/>
<rect x="99" y="131" width="1" height="1" fill="#0000c8"/>
<rect x="625" y="131" width="2" height="1" fill="#0000c8"/>
<rect x="99" y="132" width="1" height="1" fill="#0000c8"/>
<rect x="627" y="132" width="15" height="1" fill="#0000c8"/>
<rect x="98" y="133" width="1" height="1" fill="#0000c8"/>
<rect x="642" y="133" width="17" height="1" fill="#0000c8"/>
<rect x="98" y="134" width="1" height="1" fill="#0000c8"/>
<rect x="659" y="134" width="7" height="1" fill="#0000c8"/>
<rect x="97" y="135" width="1" height="1" fill="#0000c8"/>
<rect x="666" y="135" width="6" height="1" fill="#0000c8"/>
<rect x="96" y="136" width="1" height="1" fill="#0000c8"/>
<rect x="672" y="136" width="7" height="1" fill="#0000c8"/>
<rect x="96" y="137" width="1" height="1" fill="#0000c8"/>
<rect x="679" y="137" width="8" height="1" fill="#0000c8"/>
<rect x="95" y="138" width="1" height="1" fill="#0000c8"/>
<rect x="687" y="138" width="9" height="1" fill="#0000c8"/>
<rect x="95" y="139" width="1" height="1" fill="#0000c8"/>
<rect x="696" y="139" width="9" height="1" fill="#0000c8"/>
<rect x="723" y="139" width="20" height="1" fill="#0000c8"/>
<rect x="94" y="140" width="1" height="1" fill="#0000c8"/>
<rect x="705" y="140" width="18" height="1" fill="#0000c8"/>
<rect x="743" y="140" width="14" height="1" fill="#0000c8"/>
<rect x="93" y="141" width="1" height="1" fill="#0000c8"/>
<rect x="757" y="141" width="7" height="1" fill="#0000c8"/>
<rect x="93" y="142" width="1" height="1" fill="#0000c8"/>
<rect x="92" y="143" width="1" height="1" fill="#0000c8"/>
<rect x="92" y="144" width="1" height="1" fill="#0000c8"/>
<rect x="91" y="145" width="1" height="1" fill="#0000c8"/>
<rect x="90" y="146" width="1" height="1" fill="#0000c8"/>
<rect x="90" y="147" width="1" height="1" fill="#0000c8"/>
<rect x="89" y="148" width="1" height="1" fill="#0000c8"/>
<rect x="89" y="149" width="1" height="1" fill="#0000c8"/>
<rect x="75" y="150" width="14" height="1" fill="#0000c8"/>
<rect x="57" y="151" width="18" height="1" fill="#0000c8"/>
<rect x="48" y="152" width="9" height="1" fill="#0000c8"/>
<rect x="39" y="153" width="9" height="1" fill="#0000c8"/>
<rect x="34" y="154" width="5" height="1" fill="#0000c8"/>
</g>
<defs><filter id="crisp" x="0" y="0" width="800" height="600" filterUnits="userSpaceOnUse"><feComponentTransfer><feFuncA type="discrete" tableValues="0 1"/></feComponentTransfer></filter></defs>
<g filter="url(#crisp)">
<text x="2" y="566">0</text>
<text x="2" y="541">2</text>
<text x="2" y="516">4</text>
<text x="2" y="490">6</text>
<text x="2" y="465">8</text>
<text x="1 10" y="440">10</text>
<text x="1 10" y="414">12</text>
<text x="1 10" y="389">14</text>
<text x="1 10" y="364">16</text>
<text x="1 10" y="338">18</text>
<text x="2 10" y="313">20</text>
<text x="2 10" y="287">22</text>
<text x="2 10" y="262">24</text>
<text x="2 10" y="237">26</text>
<text x="2 10" y="211">28</text>
<text x="2 10" y="186">30</text>
<text x="2 10" y="161">32</text>
<text x="2 10" y="135">34</text>
<text x="2 10" y="110">36</text>
<text x="2 10" y="85">38</text>
<text x="2 10" y="59">40</text>
<text x="206 215 223 231 234 237 242 248 252 259 266 274 279 287 294 298 306 313 318 326 333 340 344 352 355 358 362 370 378 385 393 400 404 409 417 425 433 441 449 454 458 462 466 469 472 475 483 494 497 505 513 516 525 529 537 541 549 557 564 572 580 583 591 599" y="30">Quality scores across all bases (Sanger / Illumina 1.9 encoding)</text>
<text x="29" y="575">1</text>
<text x="57" y="575">2</text>
<text x="84" y="575">3</text>
<text x="111" y="575">4</text>
<text x="138" y="575">5</text>
<text x="165" y="575">6</text>
<text x="192" y="575">7</text>
<text x="219" y="575">8</text>
<text x="246" y="575">9</text>
<text x="285 294 302 305 314" y="575">15-19</text>
<text x="340 348 356 360 368" y="575">25-29</text>
<text x="394 402 410 414 422" y="575">35-39</text>
<text x="448 456 464 468 476" y="575">45-49</text>
<text x="502 510 518 522 530" y="575">55-59</text>
<text x="556 564 572 576 584" y="575">65-69</text>
<text x="610 618 626 630 638" y="575">75-79</text>
<text x="664 672 680 684 692" y="575">85-89</text>
<text x="718 726 734 738 746" y="575">95-99</text>
<text x="336 344 352 359 362 367 370 378 386 390 393 401 405 410 418 426 434 438 443 451 459" y="595">Position in read (bp)</text>
</g>
</svg>
</body></html>
